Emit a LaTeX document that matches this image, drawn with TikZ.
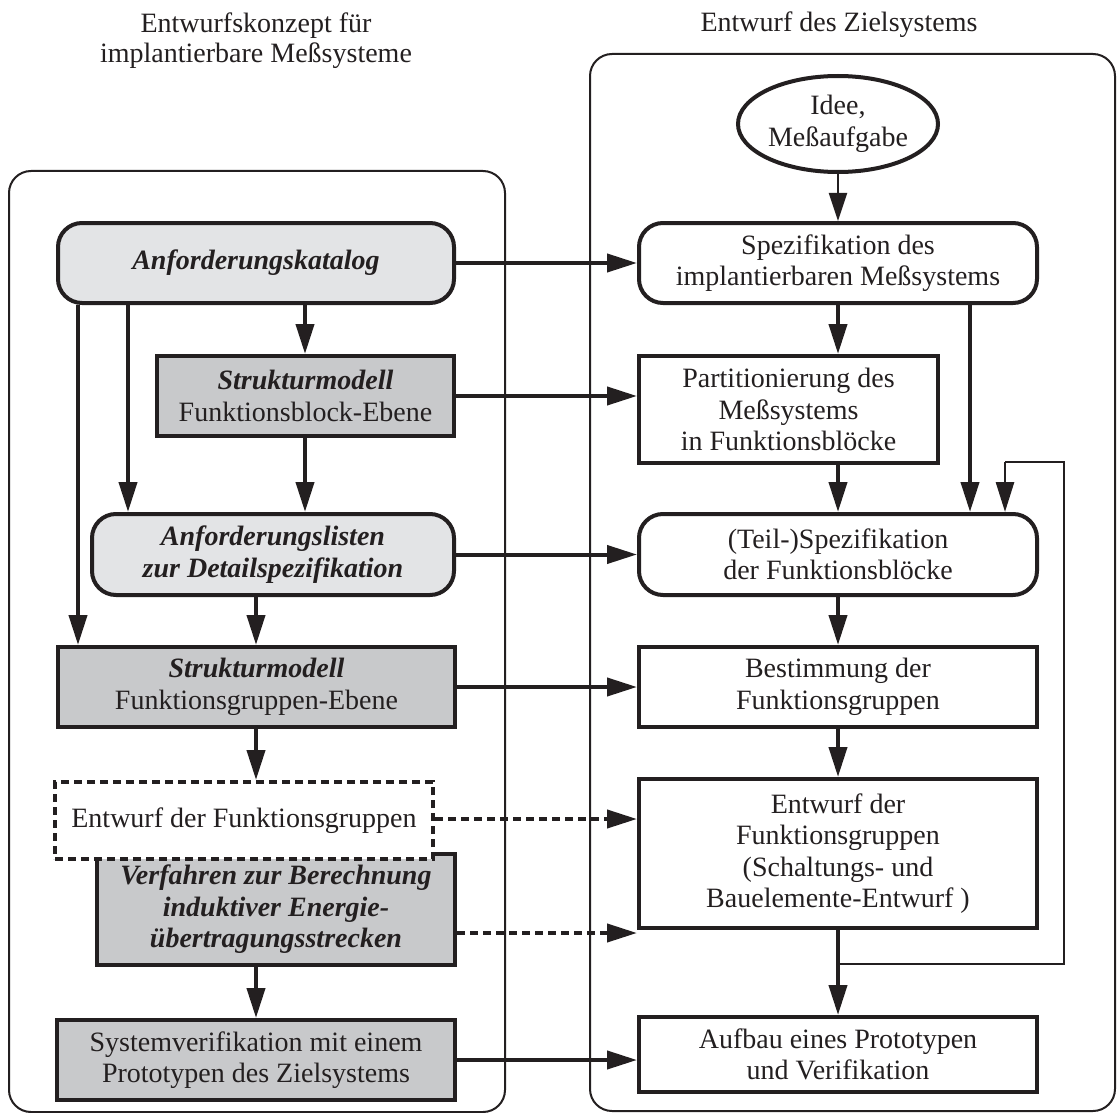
\documentclass[tikz,border=0pt]{standalone}
\usepackage{fontspec}
\setmainfont{Liberation Serif}
\usetikzlibrary{arrows.meta,shapes.geometric}
\definecolor{ink}{HTML}{231F20}
\definecolor{lightfill}{HTML}{E3E4E6}
\definecolor{darkfill}{HTML}{C8C9CB}
\tikzset{
  txt/.style={font=\fontsize{28}{31.5}\selectfont, text=ink, align=center, inner sep=0pt},
  frame/.style={draw=ink, line width=2pt, rounded corners=22pt, inner sep=0pt},
  stepbox/.style={txt, draw=ink, line width=4pt},
  roundbox/.style={stepbox, rounded corners=24pt},
  greybox/.style={stepbox, fill=darkfill},
  lightbox/.style={roundbox, fill=lightfill},
  arr/.style={draw=ink, line width=4pt, -{Triangle[length=30pt,width=18pt]}},
  thinarr/.style={draw=ink, line width=2pt, -{Triangle[length=28pt,width=18pt]}},
  dotarr/.style={arr, dash pattern=on 8pt off 5pt},
  fbline/.style={draw=ink, line width=2.8pt},
  fbarr/.style={fbline, -{Triangle[length=30pt,width=18pt]}}
}
\begin{document}
\begin{tikzpicture}[x=1pt,y=-1pt]
\useasboundingbox (0,0) rectangle (1117,1113);

% column titles
\node[txt, font=\fontsize{28}{30}\selectfont] (tl) at (256,41) {Entwurfskonzept für\\implantierbare Meßsysteme};
\node[txt] (tr) at (839,25) {Entwurf des Zielsystems};

% the two frames
\node[frame, minimum width=496pt, minimum height=941pt] (lframe) at (257,641.5) {};
\node[frame, minimum width=525pt, minimum height=1057pt] (rframe) at (852.5,582.5) {};

% left column
\node[lightbox, minimum width=396pt, minimum height=80pt] (ak) at (256,263) {\textbf{\textit{Anforderungskatalog}}};
\node[greybox, minimum width=297pt, minimum height=80pt] (smfb) at (305.5,396) {\textbf{\textit{Strukturmodell}}\\Funktionsblock-Ebene};
\node[lightbox, minimum width=362pt, minimum height=81pt] (al) at (273,554.5) {\textbf{\textit{Anforderungslisten}}\\\textbf{\textit{zur Detailspezifikation}}};
\node[greybox, minimum width=397pt, minimum height=80pt] (smfg) at (256.5,687) {\textbf{\textit{Strukturmodell}}\\Funktionsgruppen-Ebene};
\node[greybox, minimum width=358pt, minimum height=111pt] (vf) at (276,909.5) {\textbf{\textit{Verfahren zur Berechnung}}\\\textbf{\textit{induktiver Energie-}}\\\textbf{\textit{übertragungsstrecken}}};
\node[txt, draw=ink, fill=white, line width=4pt, dash pattern=on 8pt off 5pt, minimum width=378pt, minimum height=77pt] (efg) at (244,820.5) {Entwurf der Funktionsgruppen};
\node[greybox, minimum width=398pt, minimum height=80pt] (sv) at (256,1060) {Systemverifikation mit einem\\Prototypen des Zielsystems};

% right column
\node[txt, ellipse, draw=ink, line width=4pt, minimum width=200pt, minimum height=96pt] (idee) at (838,124) {Idee,\\Meßaufgabe};
\node[roundbox, minimum width=398pt, minimum height=80pt] (spez) at (838,263) {Spezifikation des\\implantierbaren Meßsystems};
\node[stepbox, minimum width=299pt, minimum height=107pt] (part) at (788.5,409.5) {Partitionierung des\\Meßsystems\\in Funktionsblöcke};
\node[roundbox, minimum width=398pt, minimum height=81pt] (ts) at (838,554.5) {(Teil-)Spezifikation\\der Funktionsblöcke};
\node[stepbox, minimum width=398pt, minimum height=80pt] (best) at (838,687) {Bestimmung der\\Funktionsgruppen};
\node[stepbox, minimum width=398pt, minimum height=149pt] (ent) at (838,853.5) {Entwurf der\\Funktionsgruppen\\(Schaltungs- und\\Bauelemente-Entwurf )};
\node[stepbox, minimum width=398pt, minimum height=75pt] (auf) at (838,1054.5) {Aufbau eines Prototypen\\und Verifikation};

% column positions of the vertical connectors
\coordinate (c78) at (78,0);
\coordinate (c128) at (128,0);
\coordinate (c305) at (305,0);
\coordinate (c256) at (256,0);
\coordinate (c838) at (838,0);
\coordinate (c970) at (970,0);
\coordinate (c1005) at (1005,0);
\coordinate (fbsplit) at (838,964);
\coordinate (fbright) at (1064,964);
\coordinate (fbtop) at (1064,462);
\coordinate (fbleft) at (1005,462);

% left column flow
\draw[arr] (ak.south -| c78) -- (smfg.north -| c78);
\draw[arr] (ak.south -| c128) -- (al.north -| c128);
\draw[arr] (ak.south -| c305) -- (smfb.north -| c305);
\draw[arr] (smfb.south -| c305) -- (al.north -| c305);
\draw[arr] (al.south -| c256) -- (smfg.north -| c256);
\draw[arr] (smfg.south -| c256) -- (efg.north -| c256);
\draw[arr] (vf.south -| c256) -- (sv.north -| c256);

% right column flow
\draw[thinarr] (idee.south) -- (spez.north);
\draw[arr] (spez.south -| c838) -- (part.north -| c838);
\draw[arr] (spez.south -| c970) -- (ts.north -| c970);
\draw[arr] (part.south -| c838) -- (ts.north -| c838);
\draw[arr] (ts.south) -- (best.north);
\draw[arr] (best.south) -- (ent.north);
\draw[arr] (ent.south) -- (auf.north);
\draw[fbline, line join=miter] (fbsplit) -- (fbright) -- (fbtop) -- (fbleft);
\draw[fbarr] (fbleft) -- (ts.north -| c1005);

% links between the two columns
\draw[arr] (ak.east) -- (ak.east -| spez.west);
\draw[arr] (smfb.east) -- (smfb.east -| part.west);
\draw[arr] (al.east) -- (al.east -| ts.west);
\draw[arr] (smfg.east) -- (smfg.east -| best.west);
\draw[dotarr] ([yshift=1.5pt]efg.east) -- ([yshift=1.5pt]efg.east -| ent.west);
\draw[dotarr] ([yshift=-23.5pt]vf.east) -- ([yshift=-23.5pt]vf.east -| ent.west);
\draw[arr] (sv.east) -- (sv.east -| auf.west);
\end{tikzpicture}
\end{document}
